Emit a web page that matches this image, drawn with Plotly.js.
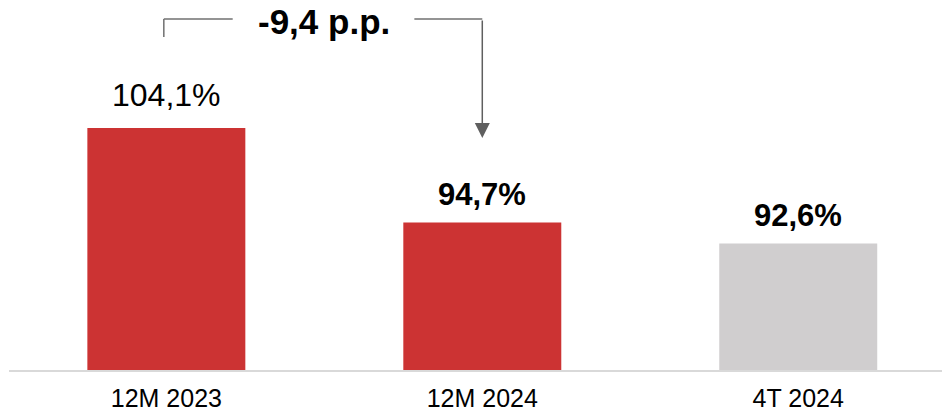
<!DOCTYPE html>
<html>
<head>
<meta charset="utf-8">
<script src="https://cdn.plot.ly/plotly-3.0.1.min.js"></script>
<style>html,body{margin:0;padding:0;background:#fff;}#chart{width:942px;height:413px;}</style>
</head>
<body>
<div id="chart"></div>
<script>
const categories = ["12M 2023", "12M 2024", "4T 2024"];
const values = [104.1, 94.7, 92.6];
const barColors = ["#CC3333", "#CC3333", "#D0CECF"];
const labelBold = [false, true, true];
const deltaLabel = "-9,4 p.p.";

const fmt = v => v.toFixed(1).replace('.', ',') + '%';

const trace = {
  type: 'bar',
  x: categories,
  y: values,
  marker: {color: barColors, line: {width: 0}},
  hoverinfo: 'none',
  showlegend: false
};

const annotations = values.map((v, i) => ({
  x: categories[i], y: v, xref: 'x', yref: 'y',
  text: labelBold[i] ? '<b>' + fmt(v) + '</b>' : fmt(v),
  showarrow: false, yanchor: 'bottom', yshift: labelBold[i] ? 8 : 13,
  font: {family: 'Liberation Sans, Arial, sans-serif', size: labelBold[i] ? 31 : 32, color: '#000'}
}));

const lineY = 1 - 19/370;
// delta label
annotations.push({
  x: 0.5, y: lineY, xref: 'x', yref: 'paper',
  text: '<b>' + deltaLabel + '</b>', showarrow: false,
  yanchor: 'middle', xanchor: 'center', yshift: -2, borderpad: 0,
  font: {family: 'Liberation Sans, Arial, sans-serif', size: 35, color: '#000'}
});
// arrow down to 2nd bar
annotations.push({
  x: 1, y: 1 - 138/370, xref: 'x', yref: 'paper',
  text: '', showarrow: true, arrowhead: 2, arrowsize: 2, arrowwidth: 1.5,
  arrowcolor: '#5f5f5f', ax: 0, ay: -(138 - 19), axref: 'pixel', ayref: 'pixel', standoff: 0
});

const lineStyle = {color: '#707070', width: 1.5};
const shapes = [
  {type: 'line', xref: 'x', yref: 'paper', x0: -0.008, x1: -0.008, y0: lineY, y1: 1 - 37/370, line: lineStyle},
  {type: 'line', xref: 'x', yref: 'paper', x0: -0.008, x1: 0.21, y0: lineY, y1: lineY, line: lineStyle},
  {type: 'line', xref: 'x', yref: 'paper', x0: 0.785, x1: 1, y0: lineY, y1: lineY, line: lineStyle}
];

const layout = {
  width: 942, height: 413,
  margin: {l: 9, r: 0, t: 0, b: 43},
  paper_bgcolor: '#fff', plot_bgcolor: '#fff',
  bargap: 0.5,
  xaxis: {
    type: 'category', range: [-0.498, 2.455],
    showline: true, linecolor: '#D9D9D9', linewidth: 2,
    ticks: '', showgrid: false, zeroline: false,
    ticklabelstandoff: 5,
    tickfont: {family: 'Liberation Sans, Arial, sans-serif', size: 25, color: '#000'}
  },
  yaxis: {
    range: [80, 116.85], visible: false, showgrid: false, zeroline: false
  },
  annotations: annotations,
  shapes: shapes
};

Plotly.newPlot('chart', [trace], layout, {displayModeBar: false, staticPlot: true});
</script>
</body>
</html>
